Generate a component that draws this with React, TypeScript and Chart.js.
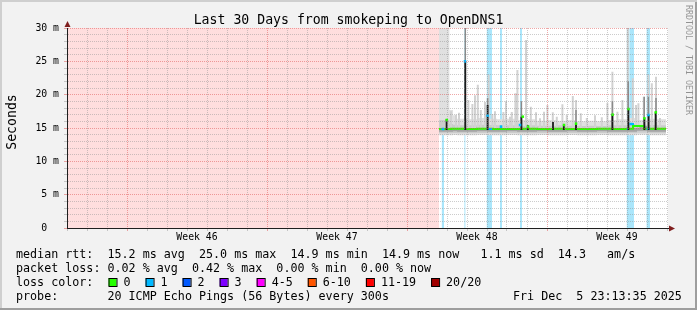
import React, { useEffect, useRef } from 'react';
import { Chart, registerables } from 'chart.js';

Chart.register(...registerables);

const MONO = "'DejaVu Sans Mono', 'Liberation Mono', monospace";

// ---------------- axes ----------------
const dayGrid = [0, 1, 2, 3, 4, 5, 6, 7, 8, 9, 10, 11, 12, 13, 14, 15, 16, 17, 18, 19, 20, 21, 22, 23, 24, 25, 26, 27, 28, 29, 30];
const weekStartDays = [3, 10, 17, 24];
const weekLabelDays = [6.5, 13.5, 20.5, 27.5];
const weekLabels = ['Week 46', 'Week 47', 'Week 48', 'Week 49'];
const msGrid = [0, 1, 2, 3, 4, 5, 6, 7, 8, 9, 10, 11, 12, 13, 14, 15, 16, 17, 18, 19, 20, 21, 22, 23, 24, 25, 26, 27, 28, 29, 30];
const msLabelValues = [0, 5, 10, 15, 20, 25, 30];
const msLabels = ['0  ', '5 m', '10 m', '15 m', '20 m', '25 m', '30 m'];

// ---------------- data (x = days since window start, y = ms) ----------------
const unknownEndDay = 18.6;

const lossStartDays = [18.73, 19.87, 20.99, 21.65, 22.65, 27.99, 28.13, 28.98];
const lossEndDays = [18.85, 19.92, 21.25, 21.75, 22.75, 28.1, 28.35, 29.15];
const lossBaseMedian = [14.85, 14.85, 14.85, 15.2, 15.45, 14.85, 15.6, 14.9];

const smokeDays = [18.6, 19.12, 19.3, 19.5, 20.0, 20.5, 21.0, 21.5, 22.0, 22.5, 23.0, 23.5, 24.0, 24.5, 25.0, 25.5, 26.0, 26.5, 27.0, 27.5, 28.0, 28.5, 29.0, 29.5, 29.95];
const smokeMax = [30, 17.7, 16.9, 16.4, 16.3, 16.5, 16.4, 16.3, 16.4, 16.2, 16.3, 16.1, 16.2, 16.1, 16.2, 16.0, 16.1, 16.0, 16.2, 16.3, 16.5, 16.2, 16.4, 16.3, 16.3];
const smokeUpper = [16.2, 15.6, 15.5, 15.4, 15.4, 15.5, 15.45, 15.4, 15.4, 15.35, 15.4, 15.35, 15.35, 15.4, 15.35, 15.3, 15.35, 15.3, 15.4, 15.4, 15.6, 15.5, 15.45, 15.4, 15.4];
const smokeCoreHi = [14.95, 14.95, 14.95, 14.95, 14.95, 14.95, 14.95, 14.95, 14.95, 14.95, 14.95, 14.95, 14.95, 14.95, 14.95, 14.95, 14.95, 14.95, 14.95, 14.95, 15.0, 15.3, 14.95, 14.95, 14.95];
const smokeCoreLo = [14.45, 14.45, 14.5, 14.45, 14.45, 14.5, 14.45, 14.45, 14.5, 14.45, 14.45, 14.5, 14.45, 14.45, 14.5, 14.45, 14.45, 14.5, 14.45, 14.45, 14.45, 14.6, 14.45, 14.45, 14.45];
const smokeLower = [14.2, 14.2, 14.25, 14.2, 14.2, 14.25, 14.2, 14.2, 14.25, 14.2, 14.2, 14.25, 14.2, 14.2, 14.25, 14.2, 14.2, 14.25, 14.2, 14.2, 14.2, 14.3, 14.2, 14.2, 14.2];
const smokeMin = [13.9, 13.9, 13.95, 13.9, 13.9, 13.95, 13.9, 13.9, 13.95, 13.9, 13.9, 13.95, 13.9, 13.9, 13.95, 13.9, 13.9, 13.95, 13.9, 13.9, 13.9, 14.0, 13.9, 13.9, 13.9];

const medianDays = [18.6, 19.2, 19.9, 20.5, 21.3, 22.0, 22.8, 23.5, 24.3, 25.0, 25.8, 26.5, 27.3, 28.0, 28.3, 28.85, 29.3, 29.95];
const medianValues = [14.85, 14.9, 14.85, 14.9, 14.85, 14.85, 14.9, 14.85, 14.9, 14.85, 14.85, 14.9, 14.85, 14.9, 15.3, 14.9, 14.9, 14.9];

const lightSpikeBase = 15.0;
const lightSpikeDays = [19.2, 19.45, 19.6, 20.07, 20.27, 20.4, 20.54, 20.69, 20.9, 21.08, 21.27, 21.4, 21.82, 21.95, 22.15, 22.24, 22.42, 22.52, 22.95, 23.19, 23.45, 23.65, 23.85, 24.02, 24.29, 24.49, 24.77, 24.99, 25.29, 25.45, 25.69, 25.99, 26.4, 26.74, 27.02, 27.27, 27.52, 27.77, 28.04, 28.29, 28.45, 28.57, 28.84, 29.07, 29.24, 29.45, 29.65];
const lightSpikeMax = [17.5, 17.0, 17.3, 19.2, 18.6, 19.9, 21.5, 17.7, 18.9, 23.0, 17.1, 17.5, 17.4, 19.0, 16.7, 17.4, 20.2, 23.7, 28.2, 18.2, 17.35, 16.45, 17.45, 18.45, 17.35, 16.7, 18.55, 16.95, 19.8, 19.2, 17.2, 16.5, 16.9, 16.6, 18.75, 23.45, 17.45, 19.2, 30, 22.45, 18.45, 18.7, 19.7, 23.0, 21.7, 22.7, 16.5];

const midSpikeBase = 14.9;
const midSpikeDays = [19.915, 21.03, 22.72, 25.45, 27.27, 28.06, 28.86, 29.07, 29.45];
const midSpikeMax = [30, 19.5, 19.0, 17.7, 19.0, 22.0, 19.7, 19.7, 19.5];

const darkSpikeBase = 14.7;
const darkSpikeDays = [18.98, 19.915, 21.03, 22.72, 23.04, 24.3, 24.84, 25.45, 27.27, 28.07, 28.87, 29.08, 29.43];
const darkSpikeMax = [16.3, 25.0, 18.45, 16.7, 15.4, 15.9, 15.5, 15.7, 17.05, 17.95, 16.45, 16.95, 17.35];

const greenDotDays = [18.99, 22.79, 23.05, 24.85, 25.45, 27.28, 28.07, 28.87, 29.44];
const greenDotValues = [16.2, 16.7, 15.2, 15.45, 15.65, 17.0, 17.85, 16.45, 17.35];
const blueDotDays = [18.8, 19.9, 21.03, 21.7, 22.65, 28.2, 29.07];
const blueDotValues = [14.85, 25.0, 16.85, 15.2, 15.45, 15.6, 16.95];

// ---------------- legend text ----------------
const titleText = 'Last 30 Days from smokeping to OpenDNS1';
const yTitle = 'Seconds';
const watermark = 'RRDTOOL / TOBI OETIKER';
const legendRtt = 'median rtt:  15.2 ms avg  25.0 ms max  14.9 ms min  14.9 ms now   1.1 ms sd  14.3   am/s';
const legendLoss = 'packet loss: 0.02 % avg  0.42 % max  0.00 % min  0.00 % now';
const legendColorLabel = 'loss color:';
const lossLabels = ['0', '1', '2', '3', '4-5', '6-10', '11-19', '20/20'];
const lossColors = ['#26ff00', '#00b8ff', '#0059ff', '#7e00ff', '#ff00ff', '#ff5500', '#ff0000', '#a10000'];
const legendProbe = 'probe:       20 ICMP Echo Pings (56 Bytes) every 300s';
const stampText = 'Fri Dec  5 23:13:35 2025';

// ---------------- helpers ----------------
const MINOR = 'rgba(143,143,143,0.45)';
const MAJOR = 'rgba(222,79,79,0.5)';

function pairs(xs: number[], ys: number[]) {
  return xs.map((x, i) => ({ x, y: ys[i] }));
}
function spikes(xs: number[], base: number, tops: number[]) {
  const out: any[] = [];
  xs.forEach((x, i) => {
    out.push({ x, y: base }, { x, y: tops[i] }, { x, y: null });
  });
  return out;
}
function columns(starts: number[], ends: number[], top: number) {
  const out: any[] = [];
  starts.forEach((s, i) => {
    out.push({ x: s, y: 0 }, { x: s, y: top }, { x: ends[i], y: top }, { x: ends[i], y: 0 });
  });
  return out;
}
function segs(starts: number[], ends: number[], vals: number[]) {
  const out: any[] = [];
  starts.forEach((s, i) => {
    out.push({ x: s, y: vals[i] }, { x: ends[i], y: vals[i] }, { x: ends[i], y: null });
  });
  return out;
}

const base = { type: 'line', pointRadius: 0, pointHoverRadius: 0, tension: 0, spanGaps: false, fill: false };

const rrdPlugin = {
  id: 'rrdDecor',
  beforeDraw(chart: any) {
    const { ctx, width, height, chartArea: a } = chart;
    ctx.save();
    ctx.fillStyle = '#f2f2f2';
    ctx.fillRect(0, 0, width, height);
    ctx.fillStyle = '#cfcfcf';
    ctx.fillRect(0, 0, width, 2);
    ctx.fillRect(0, 0, 2, height);
    ctx.fillStyle = '#9e9e9e';
    ctx.fillRect(0, height - 2, width, 2);
    ctx.fillRect(width - 2, 2, 2, height - 2);
    ctx.fillStyle = '#ffffff';
    ctx.fillRect(a.left, a.top, a.right - a.left + 1, a.bottom - a.top);
    ctx.restore();
  },
  afterDraw(chart: any) {
    const { ctx, chartArea: a } = chart;
    ctx.save();
    // axis arrows
    ctx.fillStyle = '#801f1f';
    ctx.strokeStyle = '#1f1f1f';
    ctx.lineWidth = 1;
    ctx.beginPath();
    ctx.moveTo(a.right, a.bottom + 0.5);
    ctx.lineTo(a.right + 3, a.bottom + 0.5);
    ctx.stroke();
    ctx.beginPath();
    ctx.moveTo(a.right + 2, a.bottom - 2.5);
    ctx.lineTo(a.right + 8, a.bottom + 0.5);
    ctx.lineTo(a.right + 2, a.bottom + 3.5);
    ctx.closePath();
    ctx.fill();
    ctx.beginPath();
    ctx.moveTo(a.left - 2.5, a.top - 1);
    ctx.lineTo(a.left + 0.5, a.top - 7);
    ctx.lineTo(a.left + 3.5, a.top - 1);
    ctx.closePath();
    ctx.fill();

    // title
    ctx.fillStyle = '#000';
    ctx.textBaseline = 'alphabetic';
    ctx.font = `13.2px ${MONO}`;
    ctx.textAlign = 'center';
    ctx.fillText(titleText, chart.width / 2, 24);

    // vertical unit label
    ctx.save();
    ctx.translate(15.5, 122);
    ctx.rotate(-Math.PI / 2);
    ctx.textAlign = 'center';
    ctx.fillText(yTitle, 0, 0);
    ctx.restore();

    // watermark
    ctx.save();
    ctx.translate(685.5, 5);
    ctx.rotate(Math.PI / 2);
    ctx.textAlign = 'left';
    ctx.font = `8.3px ${MONO}`;
    ctx.fillStyle = 'rgba(0,0,0,0.4)';
    ctx.fillText(watermark, 0, 0);
    ctx.restore();

    // legend
    ctx.font = `11.7px ${MONO}`;
    ctx.textAlign = 'left';
    ctx.fillStyle = '#000';
    const lx = 16;
    ctx.fillText(legendRtt, lx, 258);
    ctx.fillText(legendLoss, lx, 272);
    ctx.fillText(legendColorLabel, lx, 286);
    const cw = ctx.measureText('0').width;
    let bx = 108.5;
    lossLabels.forEach((lab, i) => {
      ctx.fillStyle = lossColors[i];
      ctx.fillRect(bx, 278, 8, 8);
      ctx.strokeStyle = '#000';
      ctx.lineWidth = 1;
      ctx.strokeRect(bx + 0.5, 278.5, 8, 8);
      ctx.fillStyle = '#000';
      ctx.fillText(lab, bx + 15, 286);
      bx += 30 + lab.length * cw;
    });
    ctx.fillText(legendProbe, lx, 299.5);
    ctx.fillText(stampText, 513, 299.5);
    ctx.restore();
  },
};

export default function App() {
  const ref = useRef<HTMLCanvasElement | null>(null);

  useEffect(() => {
    document.body.style.margin = '0';
    const canvas = ref.current;
    if (!canvas) return;

    const datasets: any[] = [
      { ...base, order: 30, data: [{ x: 0, y: 30 }, { x: unknownEndDay, y: 30 }], borderWidth: 0, borderColor: 'rgba(0,0,0,0)', backgroundColor: '#ffdede', fill: 'origin' },
      { ...base, order: 29, data: columns(lossStartDays, lossEndDays, 30), borderWidth: 0, borderColor: 'rgba(0,0,0,0)', backgroundColor: '#aae6fb', fill: 'origin' },
      { ...base, order: 28, data: pairs(smokeDays, smokeMin), stepped: 'before', borderWidth: 0, borderColor: 'rgba(0,0,0,0)' },
      { ...base, order: 27, data: pairs(smokeDays, smokeMax), stepped: 'before', borderWidth: 0, borderColor: 'rgba(0,0,0,0)', backgroundColor: '#e0e0e0', fill: '-1' },
      { ...base, order: 26, data: pairs(smokeDays, smokeLower), stepped: 'before', borderWidth: 0, borderColor: 'rgba(0,0,0,0)' },
      { ...base, order: 25, data: pairs(smokeDays, smokeUpper), stepped: 'before', borderWidth: 0, borderColor: 'rgba(0,0,0,0)', backgroundColor: '#cbcbcb', fill: '-1' },
      { ...base, order: 24, data: pairs(smokeDays, smokeCoreLo), stepped: 'before', borderWidth: 0, borderColor: 'rgba(0,0,0,0)' },
      { ...base, order: 23, data: pairs(smokeDays, smokeCoreHi), stepped: 'before', borderWidth: 0, borderColor: 'rgba(0,0,0,0)', backgroundColor: '#a4a4a4', fill: '-1' },
      { ...base, order: 22, data: spikes(lightSpikeDays, lightSpikeBase, lightSpikeMax), borderWidth: 2, borderColor: '#d2d2d2', borderCapStyle: 'butt' },
      { ...base, order: 21, data: spikes(midSpikeDays, midSpikeBase, midSpikeMax), borderWidth: 1.5, borderColor: '#8a8a8a', borderCapStyle: 'butt' },
      { ...base, order: 20, data: pairs(medianDays, medianValues), stepped: 'before', borderWidth: 2, borderColor: '#26ff00' },
      { ...base, order: 19, data: segs(lossStartDays, lossEndDays, lossBaseMedian), borderWidth: 2, borderColor: '#00b8ff' },
      { ...base, order: 18, data: spikes(darkSpikeDays, darkSpikeBase, darkSpikeMax), borderWidth: 1.8, borderColor: '#1a1a1a', borderCapStyle: 'butt' },
      { ...base, order: 17, data: pairs(greenDotDays, greenDotValues), showLine: false, pointRadius: 1.8, pointStyle: 'rect', pointBorderWidth: 0, pointBackgroundColor: '#26ff00', pointBorderColor: '#26ff00' },
      { ...base, order: 16, data: pairs(blueDotDays, blueDotValues), showLine: false, pointRadius: 1.8, pointStyle: 'rect', pointBorderWidth: 0, pointBackgroundColor: '#00b8ff', pointBorderColor: '#00b8ff' },
    ];

    const chart = new Chart(canvas, {
      type: 'line',
      data: { datasets },
      plugins: [rrdPlugin],
      options: {
        animation: false,
        responsive: false,
        maintainAspectRatio: false,
        devicePixelRatio: 1,
        events: [],
        layout: { padding: { left: 0, top: 28, right: 30, bottom: 62 } },
        plugins: { legend: { display: false }, tooltip: { enabled: false }, title: { display: false } },
        scales: {
          x: {
            type: 'linear',
            position: 'bottom',
            min: 0,
            max: 30,
            afterFit: (s: any) => { s.height = 20; },
            afterBuildTicks: (axis: any) => {
              const vals = [...dayGrid, ...weekLabelDays].sort((p, q) => p - q);
              axis.ticks = vals.map((v) => ({ value: v }));
            },
            ticks: {
              autoSkip: false,
              maxRotation: 0,
              minRotation: 0,
              padding: 1,
              color: '#000',
              font: { family: MONO, size: 9.8 },
              callback: (v: any) => {
                const i = weekLabelDays.indexOf(Number(v));
                return i >= 0 ? weekLabels[i] : '';
              },
            },
            grid: {
              z: 1,
              lineWidth: 1,
              tickLength: 3,
              color: (c: any) => {
                const v = c.tick ? c.tick.value : -1;
                if (weekLabelDays.includes(v)) return 'rgba(0,0,0,0)';
                return weekStartDays.includes(v) ? MAJOR : MINOR;
              },
              tickColor: (c: any) => {
                const v = c.tick ? c.tick.value : -1;
                if (weekLabelDays.includes(v)) return 'rgba(0,0,0,0)';
                return weekStartDays.includes(v) ? MAJOR : MINOR;
              },
            },
            border: { display: true, color: '#1f1f1f', width: 1, dash: [1, 1], z: 2 },
          },
          y: {
            type: 'linear',
            position: 'left',
            min: 0,
            max: 30,
            stacked: false,
            afterFit: (s: any) => { s.width = 67; },
            afterBuildTicks: (axis: any) => {
              axis.ticks = msGrid.map((v) => ({ value: v }));
            },
            ticks: {
              autoSkip: false,
              padding: 5,
              color: '#000',
              font: { family: MONO, size: 9.8 },
              callback: (v: any) => {
                const i = msLabelValues.indexOf(Number(v));
                return i >= 0 ? msLabels[i] : '';
              },
            },
            grid: {
              z: 1,
              lineWidth: 1,
              tickLength: 3,
              color: (c: any) => (c.tick && msLabelValues.includes(c.tick.value) ? MAJOR : MINOR),
              tickColor: (c: any) => (c.tick && msLabelValues.includes(c.tick.value) ? MAJOR : MINOR),
            },
            border: { display: true, color: '#1f1f1f', width: 1, dash: [1, 1], z: 2 },
          },
        },
      } as any,
    } as any);

    return () => chart.destroy();
  }, []);

  return (
    <div style={{ position: 'fixed', left: 0, top: 0, width: 697, height: 310 }}>
      <canvas ref={ref} width={697} height={310} style={{ display: 'block', width: 697, height: 310 }} />
    </div>
  );
}
